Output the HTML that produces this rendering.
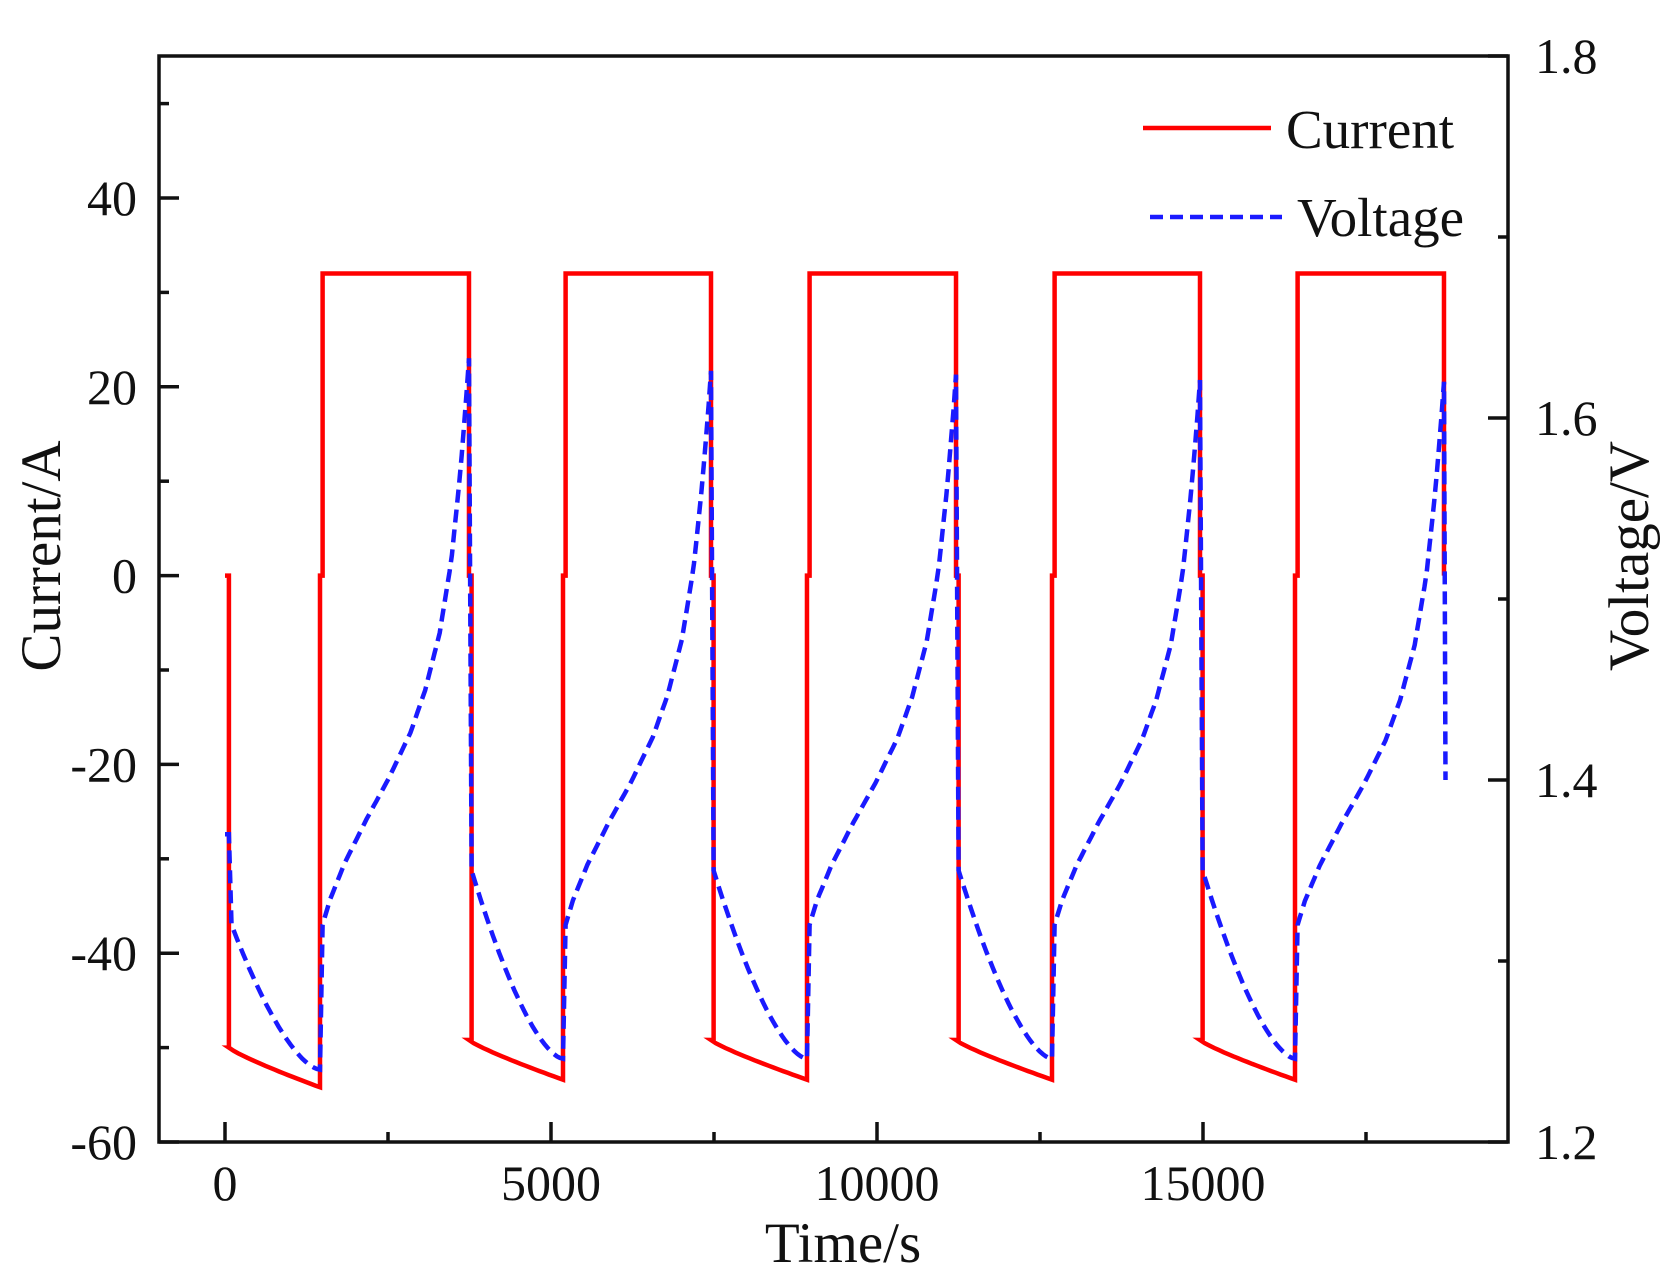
<!DOCTYPE html>
<html><head><meta charset="utf-8"><style>
html,body{margin:0;padding:0;background:#fff;}
svg{display:block;}
text{font-family:"Liberation Serif",serif;fill:#111;}
</style></head><body>
<svg id="s" width="1678" height="1288" viewBox="0 0 1678 1288" xmlns="http://www.w3.org/2000/svg">
<rect width="1678" height="1288" fill="#fff"/>
<g id="ax" stroke="#111" stroke-width="3.5" fill="none"></g>
<g id="lbl" font-size="50"></g>
<text x="843" y="1262" font-size="57" text-anchor="middle">Time/s</text>
<text transform="translate(60,556) rotate(-90)" font-size="57" text-anchor="middle">Current/A</text>
<text transform="translate(1648,556) rotate(-90)" font-size="57" text-anchor="middle">Voltage/V</text>
<path id="cur" fill="none" stroke="#f00" stroke-width="4.5" stroke-linejoin="miter"/>
<path id="vol" fill="none" stroke="#1a1aff" stroke-width="4.5" stroke-dasharray="13,7"/>
<line x1="1143" y1="128" x2="1271" y2="128" stroke="#f00" stroke-width="4.5"/>
<text x="1286" y="148" font-size="55">Current</text>
<line x1="1150" y1="217" x2="1282" y2="217" stroke="#1a1aff" stroke-width="4.5" stroke-dasharray="13,7"/>
<text x="1297" y="236" font-size="55">Voltage</text>
</svg>
<script>
var L=159,R=1508,T=56,B=1142;
function X(t){return 225+t*0.0652;}
function YA(a){return 1142-(a+60)*9.44;}
function YV(v){return 1142-(v-1.2)/0.6*1086;}
var ax=document.getElementById('ax'),lb=document.getElementById('lbl'),h='',l='';
h+='<rect x="'+L+'" y="'+T+'" width="'+(R-L)+'" height="'+(B-T)+'"/>';
for(var t=0;t<=17500;t+=2500){var x=X(t),len=(t%5000==0)?20:10;h+='<line x1="'+x+'" y1="'+B+'" x2="'+x+'" y2="'+(B-len)+'"/>';
 if(t%5000==0)l+='<text x="'+x+'" y="1200" text-anchor="middle">'+t+'</text>';}
for(var a=-60;a<=50;a+=10){var y=YA(a),len=(a%20==0)?20:10;h+='<line x1="'+L+'" y1="'+y+'" x2="'+(L+len)+'" y2="'+y+'"/>';
 if(a%20==0)l+='<text x="137" y="'+(y+17)+'" text-anchor="end">'+a+'</text>';}
for(var i=0;i<=6;i++){var v=1.2+i*0.1,y=YV(v),len=(i%2==0)?20:10;h+='<line x1="'+R+'" y1="'+y+'" x2="'+(R-len)+'" y2="'+y+'"/>';
 if(i%2==0)l+='<text x="1535" y="'+(y+17)+'">'+v.toFixed(1)+'</text>';}
ax.innerHTML=h;lb.innerHTML=l;
var cs=[1457,5184,8926,12684,16411],ce=[3742,7454,11212,14954,18696];
var c='M'+X(0)+' '+YA(0)+' L'+X(60)+' '+YA(0)+' L'+X(60)+' '+YA(-50);
var ds=[60].concat(ce),de=cs;
function cur(k,s){return (k==0?-50:-49.2)-4.2*Math.pow(s,0.85);}
for(var k=0;k<5;k++){
 for(var j=0;j<=20;j++){var s=j/20,t=ds[k]+(de[k]-ds[k])*s;c+=' L'+X(t).toFixed(1)+' '+YA(cur(k,s)).toFixed(1);}
 c+=' L'+X(cs[k])+' '+YA(0)+' L'+X(cs[k]+40)+' '+YA(0)+' L'+X(cs[k]+40)+' '+YA(32)+' L'+X(ce[k])+' '+YA(32)+' L'+X(ce[k])+' '+YA(0);
 if(k<4)c+=' L'+X(ce[k]+40)+' '+YA(0)+' L'+X(ce[k]+40)+' '+YA(-49.2);
}
document.getElementById('cur').setAttribute('d',c);
var cp=[[0,1.32],[0.05,1.333],[0.15,1.352],[0.3,1.375],[0.45,1.396],[0.6,1.42],[0.7,1.442],[0.8,1.472],[0.88,1.51],[0.94,1.555],[0.98,1.593],[1,1.615]];
function chg(s){for(var i=1;i<cp.length;i++)if(s<=cp[i][0]){var a=cp[i-1],b=cp[i],f=(s-a[0])/(b[0]-a[0]);return a[1]+f*(b[1]-a[1]);}return 1.615;}
var v='M'+X(0)+' '+YV(1.37)+' L'+X(60)+' '+YV(1.37)+' L'+X(100)+' '+YV(1.32);
var pks=[1.633,1.626,1.624,1.621,1.62];
for(var k=0;k<5;k++){
 var st=(k==0?100:ce[k-1]+40),v0=(k==0?1.32:1.35),vm=(k==0?1.24:1.246);
 if(k>0)v+=' L'+X(st).toFixed(1)+' '+YV(v0).toFixed(1);
 for(var j=1;j<=30;j++){var s=j/30,t=st+(cs[k]-st)*s;v+=' L'+X(t).toFixed(1)+' '+YV(vm+(v0-vm)*Math.pow(1-s,1.6)).toFixed(1);}
 var a0=cs[k]+40;v+=' L'+X(a0).toFixed(1)+' '+YV(1.32).toFixed(1);
 var pk=pks[k];
 for(var j=1;j<=60;j++){var s=j/60,t=a0+(ce[k]-a0)*s;var vv=chg(s);vv=1.32+(vv-1.32)*(pk-1.32)/0.295;v+=' L'+X(t).toFixed(1)+' '+YV(vv).toFixed(1);}
}
v+=' L'+X(18720).toFixed(1)+' '+YV(1.4).toFixed(1);
document.getElementById('vol').setAttribute('d',v);
</script>
</body></html>
